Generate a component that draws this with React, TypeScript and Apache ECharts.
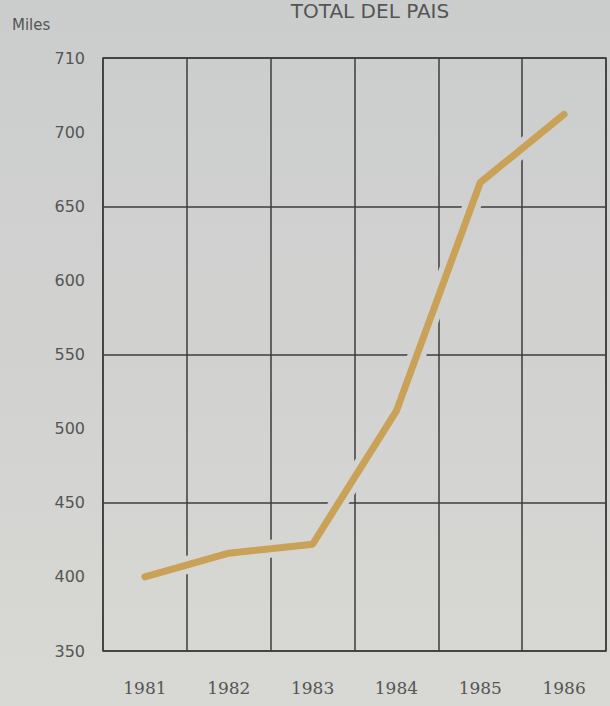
import React, { useEffect, useRef } from "react";
import * as echarts from "echarts";

const years = ["1981", "1982", "1983", "1984", "1985", "1986"];
const totals = [400, 416, 422, 512, 666, 712];
const yTickLabels = ["350", "400", "450", "500", "550", "600", "650", "700", "710"];
const titleText = "TOTAL DEL PAIS";
const unitText = "Miles";

export default function App() {
  const ref = useRef<HTMLDivElement>(null);
  useEffect(() => {
    if (!ref.current) return;
    const chart = echarts.init(ref.current, undefined, { renderer: "svg" });
    const stops = [
      { offset: 0, color: "#cbcdcd" },
      { offset: 1, color: "#d8d8d4" },
    ];
    chart.setOption({
      animation: false,
      backgroundColor: new echarts.graphic.LinearGradient(0, 0, 0, 1, stops),
      graphic: [
        {
          type: "text",
          x: 370,
          y: 1,
          style: {
            text: titleText,
            fontSize: 20,
            fontFamily: "DejaVu Sans",
            fill: "#555555",
            align: "center",
            verticalAlign: "top",
          },
        },
        {
          type: "text",
          x: 12,
          y: 25,
          style: {
            text: unitText,
            fontSize: 15,
            fontFamily: "DejaVu Sans",
            fill: "#555555",
            align: "left",
            verticalAlign: "middle",
          },
        },
      ],
      grid: {
        left: 103,
        right: 4,
        top: 58,
        bottom: 55,
        show: true,
        borderColor: "#3d3d3d",
        borderWidth: 1.5,
      },
      xAxis: {
        type: "category",
        data: years,
        boundaryGap: true,
        axisLine: { show: false },
        axisTick: { show: false },
        splitLine: { show: true, lineStyle: { color: "#3d3d3d", width: 1.5 } },
        axisLabel: {
          margin: 28,
          fontSize: 17,
          fontFamily: "DejaVu Serif",
          color: "#555555",
        },
      },
      yAxis: [
        {
          type: "value",
          min: 350,
          max: 750,
          interval: 50,
          axisLine: { show: false },
          axisTick: { show: false },
          splitLine: { show: false },
          axisLabel: {
            margin: 18,
            fontSize: 16,
            fontFamily: "DejaVu Sans",
            color: "#555555",
            formatter: (_v: number, i: number) => yTickLabels[i] ?? "",
          },
        },
        {
          type: "value",
          min: 350,
          max: 750,
          interval: 100,
          position: "left",
          axisLine: { show: false },
          axisTick: { show: false },
          axisLabel: { show: false },
          splitLine: { show: true, lineStyle: { color: "#3d3d3d", width: 1.5 } },
        },
      ],
      series: [
        {
          type: "line",
          data: totals,
          yAxisIndex: 0,
          symbol: "none",
          z: 2,
          silent: true,
          lineStyle: {
            color: new echarts.graphic.LinearGradient(0, 0, 0, 706, stops, true),
            width: 18,
            cap: "round",
            join: "round",
          },
        },
        {
          type: "line",
          data: totals,
          yAxisIndex: 0,
          symbol: "none",
          z: 3,
          lineStyle: { color: "#c9a157", width: 7, cap: "round", join: "round" },
        },
      ],
    });
    return () => chart.dispose();
  }, []);
  return (
    <div
      ref={ref}
      style={{ position: "fixed", left: 0, top: 0, width: 610, height: 706 }}
    />
  );
}
